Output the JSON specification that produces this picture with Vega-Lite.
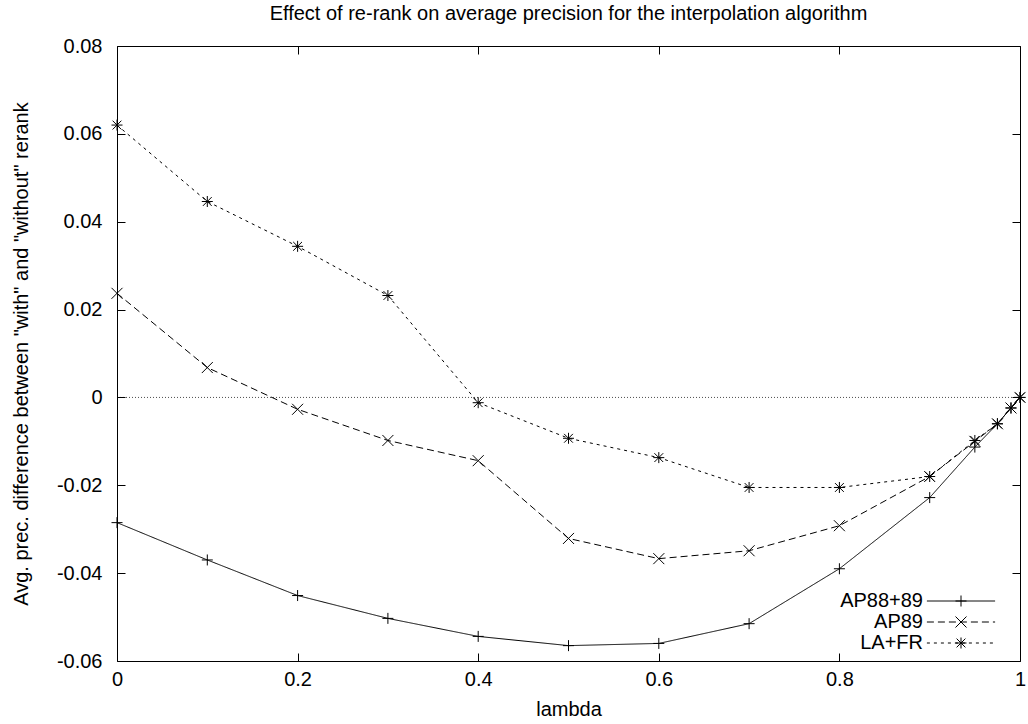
{
  "$schema": "https://vega.github.io/schema/vega-lite/v6.json",
  "width": 903,
  "height": 615,
  "autosize": {"type": "none"},
  "padding": {"left": 117, "top": 46, "right": 8, "bottom": 63},
  "background": "white",
  "config": {
    "font": "Liberation Sans",
    "view": {"stroke": "black", "strokeWidth": 1},
    "axis": {
      "grid": false,
      "domain": false,
      "tickColor": "black",
      "tickSize": -8,
      "tickWidth": 1,
      "labelColor": "black",
      "labelFontSize": 20,
      "titleColor": "black",
      "titleFontSize": 20,
      "titleFontWeight": "normal",
      "minExtent": 0
    }
  },
  "title": {
    "text": "Effect of re-rank on average precision for the interpolation algorithm",
    "fontSize": 20,
    "fontWeight": "normal",
    "color": "black",
    "anchor": "middle",
    "offset": 12
  },
  "data": {
    "values": [
      {"series": "AP88+89", "lambda": 0, "value": -0.0285},
      {"series": "AP88+89", "lambda": 0.1, "value": -0.0370},
      {"series": "AP88+89", "lambda": 0.2, "value": -0.0451},
      {"series": "AP88+89", "lambda": 0.3, "value": -0.0503},
      {"series": "AP88+89", "lambda": 0.4, "value": -0.0544},
      {"series": "AP88+89", "lambda": 0.5, "value": -0.0565},
      {"series": "AP88+89", "lambda": 0.6, "value": -0.0560},
      {"series": "AP88+89", "lambda": 0.7, "value": -0.0515},
      {"series": "AP88+89", "lambda": 0.8, "value": -0.0390},
      {"series": "AP88+89", "lambda": 0.9, "value": -0.0228},
      {"series": "AP88+89", "lambda": 0.95, "value": -0.0113},
      {"series": "AP88+89", "lambda": 0.975, "value": -0.0060},
      {"series": "AP88+89", "lambda": 0.99, "value": -0.0024},
      {"series": "AP88+89", "lambda": 1, "value": 0},
      {"series": "AP89", "lambda": 0, "value": 0.0237},
      {"series": "AP89", "lambda": 0.1, "value": 0.0068},
      {"series": "AP89", "lambda": 0.2, "value": -0.0027},
      {"series": "AP89", "lambda": 0.3, "value": -0.0098},
      {"series": "AP89", "lambda": 0.4, "value": -0.0144},
      {"series": "AP89", "lambda": 0.5, "value": -0.0321},
      {"series": "AP89", "lambda": 0.6, "value": -0.0367},
      {"series": "AP89", "lambda": 0.7, "value": -0.0349},
      {"series": "AP89", "lambda": 0.8, "value": -0.0292},
      {"series": "AP89", "lambda": 0.9, "value": -0.0180},
      {"series": "AP89", "lambda": 0.95, "value": -0.0100},
      {"series": "AP89", "lambda": 0.975, "value": -0.0060},
      {"series": "AP89", "lambda": 0.99, "value": -0.0024},
      {"series": "AP89", "lambda": 1, "value": 0},
      {"series": "LA+FR", "lambda": 0, "value": 0.0620},
      {"series": "LA+FR", "lambda": 0.1, "value": 0.0446},
      {"series": "LA+FR", "lambda": 0.2, "value": 0.0344},
      {"series": "LA+FR", "lambda": 0.3, "value": 0.0232},
      {"series": "LA+FR", "lambda": 0.4, "value": -0.0012},
      {"series": "LA+FR", "lambda": 0.5, "value": -0.0093},
      {"series": "LA+FR", "lambda": 0.6, "value": -0.0137},
      {"series": "LA+FR", "lambda": 0.7, "value": -0.0205},
      {"series": "LA+FR", "lambda": 0.8, "value": -0.0205},
      {"series": "LA+FR", "lambda": 0.9, "value": -0.0180},
      {"series": "LA+FR", "lambda": 0.95, "value": -0.0098},
      {"series": "LA+FR", "lambda": 0.975, "value": -0.0060},
      {"series": "LA+FR", "lambda": 0.99, "value": -0.0024},
      {"series": "LA+FR", "lambda": 1, "value": 0}
    ]
  },
  "resolve": {"axis": {"x": "independent", "y": "independent"}},
  "layer": [
    {
      "data": {"values": [{}]},
      "mark": {"type": "rule", "stroke": "black", "strokeWidth": 1, "strokeDash": [1, 2], "opacity": 0.7},
      "encoding": {
        "x": {"datum": 0, "type": "quantitative", "axis": {"orient": "top", "labels": false, "title": null, "values": [0, 0.2, 0.4, 0.6, 0.8, 1]}},
        "x2": {"datum": 1},
        "y": {"datum": 0, "type": "quantitative", "axis": {"orient": "right", "labels": false, "title": null, "values": [-0.06, -0.04, -0.02, 0, 0.02, 0.04, 0.06, 0.08]}}
      }
    },
    {
      "encoding": {
        "x": {
          "field": "lambda",
          "type": "quantitative",
          "scale": {"domain": [0, 1], "nice": false},
          "axis": {
            "orient": "bottom",
            "title": "lambda",
            "values": [0, 0.2, 0.4, 0.6, 0.8, 1],
            "labelExpr": "replace(format(datum.value, '~g'), '\u2212', '-')",
            "labelPadding": 16,
            "labelFlush": false,
            "titleBaseline": "middle",
            "titleY": 48
          }
        },
        "y": {
          "field": "value",
          "type": "quantitative",
          "scale": {"domain": [-0.06, 0.08], "nice": false, "zero": false},
          "axis": {
            "orient": "left",
            "title": "Avg. prec. difference between \"with\" and \"without\" rerank",
            "values": [-0.06, -0.04, -0.02, 0, 0.02, 0.04, 0.06, 0.08],
            "labelExpr": "replace(format(datum.value, '~g'), '\u2212', '-')",
            "labelPadding": 23,
            "labelFlush": false,
            "titleBaseline": "alphabetic",
            "titleX": -90
          }
        }
      },
      "layer": [
        {
          "mark": {"type": "line", "stroke": "black", "strokeWidth": 1},
          "encoding": {
            "strokeDash": {
              "field": "series",
              "type": "nominal",
              "scale": {"range": [[1, 0], [7, 4], [3, 4]]},
              "legend": {
                "title": null,
                "orient": "none",
                "legendX": 834,
                "legendY": 545,
                "symbolType": "M-6.2,0L6.2,0",
                "symbolSize": 121,
                "symbolStrokeColor": "black",
                "symbolStrokeWidth": 1,
                "labelAlign": "right",
                "labelOffset": -48,
                "labelFontSize": 20,
                "labelColor": "black",
                "rowPadding": 1
              }
            }
          }
        },
        {
          "mark": {"type": "point", "filled": false, "stroke": "black", "strokeWidth": 1, "size": 121, "opacity": 1},
          "encoding": {
            "shape": {
              "field": "series",
              "type": "nominal",
              "scale": {
                "domain": ["AP88+89", "AP89", "LA+FR"],
                "range": [
                  "M-1,0L1,0M0,-1L0,1",
                  "M-1,-1L1,1M-1,1L1,-1",
                  "M-1,0L1,0M0,-1L0,1M-0.8,-0.8L0.8,0.8M-0.8,0.8L0.8,-0.8"
                ]
              },
              "legend": {
                "title": null,
                "orient": "none",
                "legendX": 834,
                "legendY": 545,
                "symbolSize": 121,
                "symbolStrokeColor": "black",
                "symbolStrokeWidth": 1,
                "symbolFillColor": "transparent",
                "labelAlign": "right",
                "labelOffset": -48,
                "labelFontSize": 20,
                "labelOpacity": 0,
                "rowPadding": 1
              }
            }
          }
        }
      ]
    }
  ]
}
